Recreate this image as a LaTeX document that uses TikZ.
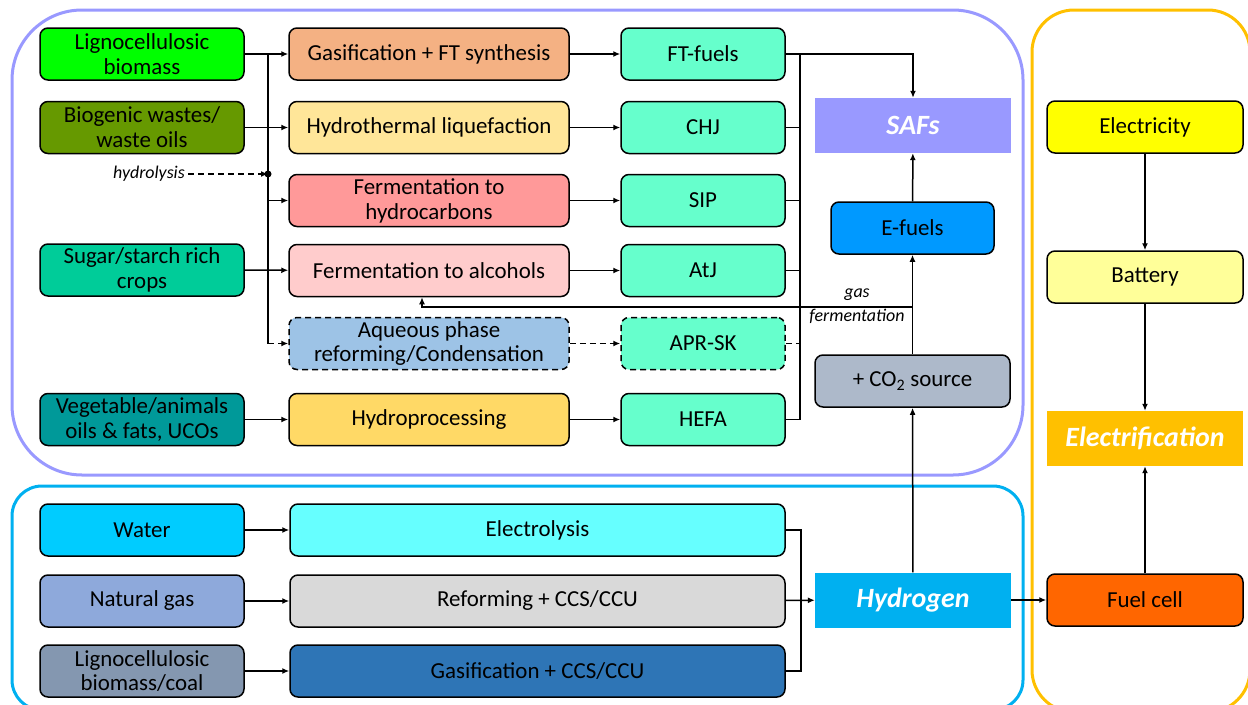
\documentclass[tikz,border=0pt]{standalone}
\usepackage{fontspec}
\setmainfont{Carlito}
\usepackage{tikz}
\usetikzlibrary{arrows.meta,shapes,positioning}

\definecolor{lignogreen}{HTML}{00FF00}
\definecolor{biowaste}{HTML}{669900}
\definecolor{sugarcrop}{HTML}{00CC99}
\definecolor{vegoil}{HTML}{009999}
\definecolor{waterc}{HTML}{00CCFF}
\definecolor{natgas}{HTML}{8EA9DB}
\definecolor{ligcoal}{HTML}{8497B0}
\definecolor{gasftc}{HTML}{F4B183}
\definecolor{htlc}{HTML}{FFE699}
\definecolor{fermhcc}{HTML}{FF9999}
\definecolor{fermalcc}{HTML}{FFCCCC}
\definecolor{aprc}{HTML}{9DC3E6}
\definecolor{hprocc}{HTML}{FFD966}
\definecolor{fuelc}{HTML}{66FFCC}
\definecolor{elysc}{HTML}{66FFFF}
\definecolor{refc}{HTML}{D9D9D9}
\definecolor{gasccsc}{HTML}{2E75B6}
\definecolor{safc}{HTML}{9999FF}
\definecolor{efuelc}{HTML}{0099FF}
\definecolor{co2c}{HTML}{ADB9CA}
\definecolor{hydroc}{HTML}{00B0F0}
\definecolor{elecc}{HTML}{FFFF00}
\definecolor{battc}{HTML}{FFFF99}
\definecolor{electrifc}{HTML}{FFC000}
\definecolor{fcellc}{HTML}{FF6600}

\begin{document}
\begin{tikzpicture}[
  box/.style={draw,line width=1.5bp,rounded corners=8bp,align=center,inner sep=1bp,
    minimum height=52bp,font=\fontsize{23}{25}\selectfont},
  srcbox/.style={box,minimum width=204bp},
  procbox/.style={box,minimum width=280bp},
  fuelbox/.style={box,minimum width=164bp,fill=fuelc},
  hbox/.style={box,minimum width=495bp},
  rbox/.style={box,minimum width=196bp},
  hub/.style={minimum width=196bp,minimum height=55bp,inner sep=0pt,text=white,
    font=\fontsize{28}{30}\selectfont\bfseries\itshape},
  frame/.style={line width=3bp},
  flow/.style={-{Latex[length=7bp,width=6bp]},line width=1.5bp},
  link/.style={line width=1.5bp},
  dashline/.style={dash pattern=on 6bp off 4bp},
  note/.style={font=\fontsize{18}{20}\selectfont\itshape}
]
\useasboundingbox (0,0) rectangle (1248bp,-705bp);
\clip (0,0) rectangle (1248bp,-705bp);

% containers
\draw[frame,safc,rounded corners=70bp] (12bp,-10bp) rectangle (1023bp,-475bp);
\draw[frame,hydroc,rounded corners=30bp] (12bp,-486bp) rectangle (1023bp,-710bp);
\draw[frame,electrifc,rounded corners=42bp] (1032bp,-10bp) rectangle (1250bp,-712bp);

% feedstocks
\node (lig) at (142bp,-54bp)[srcbox,fill=lignogreen] {Lignocellulosic\\biomass};
\node (bio) at (142bp,-127.5bp)[srcbox,fill=biowaste] {Biogenic wastes/\\waste oils};
\node (sugar) at (142bp,-270bp)[srcbox,fill=sugarcrop] {Sugar/starch rich\\crops};
\node (veg) at (142bp,-419.5bp)[srcbox,fill=vegoil] {Vegetable/animals\\oils \& fats, UCOs};
\node (water) at (142bp,-530bp)[srcbox,fill=waterc] {Water};
\node (ngas) at (142bp,-601bp)[srcbox,fill=natgas] {Natural gas};
\node (ligcoal) at (142bp,-671bp)[srcbox,fill=ligcoal] {Lignocellulosic\\biomass/coal};

% conversion routes
\node (gasft) at (429bp,-54bp)[procbox,fill=gasftc] {Gasification + FT synthesis};
\node (htl) at (429bp,-127.5bp)[procbox,fill=htlc] {Hydrothermal liquefaction};
\node (fermhc) at (429bp,-200.5bp)[procbox,fill=fermhcc] {Fermentation to\\hydrocarbons};
\node (fermalc) at (429bp,-270.5bp)[procbox,fill=fermalcc] {Fermentation to alcohols};
\node (apr) at (429bp,-343.5bp)[procbox,fill=aprc,dashline] {Aqueous phase\\reforming/Condensation};
\node (hproc) at (429bp,-419.5bp)[procbox,fill=hprocc] {Hydroprocessing};

% fuels
\node (ftf) at (703bp,-54bp)[fuelbox] {FT-fuels};
\node (chj) at (703bp,-127.5bp)[fuelbox] {CHJ};
\node (sip) at (703bp,-200.5bp)[fuelbox] {SIP};
\node (atj) at (703bp,-270.5bp)[fuelbox] {AtJ};
\node (aprsk) at (703bp,-343.5bp)[fuelbox,dashline] {APR-SK};
\node (hefa) at (703bp,-419.5bp)[fuelbox] {HEFA};

% hydrogen routes
\node (elys) at (537.5bp,-530bp)[hbox,fill=elysc] {Electrolysis};
\node (refccs) at (537.5bp,-601bp)[hbox,fill=refc] {Reforming + CCS/CCU};
\node (gasccs) at (537.5bp,-671bp)[hbox,fill=gasccsc] {Gasification + CCS/CCU};

% hubs and right column
\node (safs) at (913bp,-125.5bp)[hub,fill=safc] {SAFs};
\node (efuel) at (912.5bp,-228bp)[box,minimum width=163bp,fill=efuelc] {E-fuels};
\node (co2) at (912.5bp,-381bp)[box,minimum width=195bp,fill=co2c] {+ CO\textsubscript{2} source};
\node (h2) at (913bp,-600bp)[hub,fill=hydroc] {Hydrogen};
\node (elec) at (1145bp,-127bp)[rbox,fill=elecc] {Electricity};
\node (batt) at (1145bp,-277bp)[rbox,fill=battc] {Battery};
\node (electrif) at (1145bp,-438.5bp)[hub,fill=electrifc] {Electrification};
\node (fcell) at (1145bp,-600bp)[rbox,fill=fcellc] {Fuel cell};

\node (hydrolysis) at (149bp,-174bp)[note] {hydrolysis};
\node (gaslbl) at (857bp,-295bp)[note] {gas};
\node (fermlbl) at (857bp,-316bp)[note] {fermentation};

\coordinate (lbus) at (268bp,-54bp);
\coordinate (hdot) at (268bp,-174bp);
\coordinate (rbus) at (800bp,-54bp);
\coordinate (gf) at (912.5bp,-307bp);
\coordinate (hbus) at (801bp,-530bp);

% feedstock -> routes
\draw [flow] (lig) -- (gasft);
\draw [flow] (bio) -- (htl);
\draw [flow] (sugar) -- (fermalc);
\draw [flow] (veg) -- (hproc);
\draw [link] (lbus) -- (lbus |- apr.west);
\draw [flow] (lbus |- fermhc.west) -- (fermhc.west);
\draw [flow,dashline] (lbus |- apr.west) -- (apr.west);
\draw [flow,dashline] (hydrolysis) -- (hdot);
\fill (hdot) circle (3.5bp);

% routes -> fuels
\draw [flow] (gasft) -- (ftf);
\draw [flow] (htl) -- (chj);
\draw [flow] (fermhc) -- (sip);
\draw [flow] (fermalc) -- (atj);
\draw [flow,dashline] (apr) -- (aprsk);
\draw [flow] (hproc) -- (hefa);

% fuels -> SAFs
\draw [flow] (ftf.east) -| (safs.north);
\draw [link] (rbus) -- (rbus |- hefa.east) -- (hefa.east);
\draw [link] (chj.east) -- (chj.east -| rbus);
\draw [link] (sip.east) -- (sip.east -| rbus);
\draw [link] (atj.east) -- (atj.east -| rbus);
\draw [link,dashline] (aprsk.east) -- (aprsk.east -| rbus);

% power-to-liquid
\draw [flow] (efuel) -- (safs);
\draw [flow] (co2) -- (efuel);
\draw [flow] (h2) -- (co2);
\draw [flow] (gf) -| ([xshift=-7bp]fermalc.south);

% hydrogen
\draw [flow] (water) -- (elys);
\draw [flow] (ngas) -- (refccs);
\draw [flow] (ligcoal) -- (gasccs);
\draw [link] (elys.east) -- (hbus) -- (hbus |- gasccs.east) -- (gasccs.east);
\draw [flow] (refccs) -- (h2);
\draw [flow] (h2) -- (fcell);

% electrification
\draw [flow] (elec) -- (batt);
\draw [flow] (batt) -- (electrif);
\draw [flow] (fcell) -- (electrif);
\end{tikzpicture}
\end{document}
